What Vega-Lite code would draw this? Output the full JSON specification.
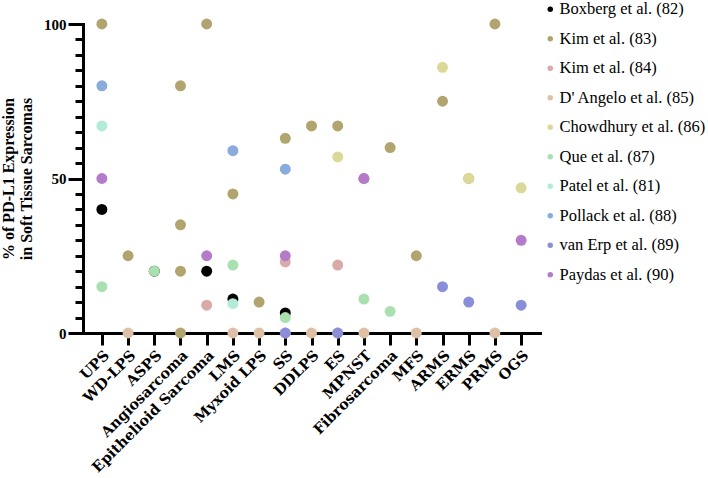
{
  "$schema": "https://vega.github.io/schema/vega-lite/v6.json",
  "width": 457,
  "height": 309,
  "autosize": {"type": "none"},
  "padding": {"left": 83, "top": 24, "right": 168, "bottom": 145},
  "background": "white",
  "config": {
    "view": {"stroke": null},
    "font": "Liberation Serif",
    "legend": {"labelFont": "Liberation Serif", "labelFontSize": 16.5}
  },
  "data": {"values": [
    {"study": "Boxberg et al. (82)", "sarcoma": "UPS", "pct": 40},
    {"study": "Boxberg et al. (82)", "sarcoma": "ASPS", "pct": 20},
    {"study": "Boxberg et al. (82)", "sarcoma": "Epithelioid Sarcoma", "pct": 20},
    {"study": "Boxberg et al. (82)", "sarcoma": "LMS", "pct": 11},
    {"study": "Boxberg et al. (82)", "sarcoma": "SS", "pct": 6.5},
    {"study": "Kim et al. (83)", "sarcoma": "UPS", "pct": 100},
    {"study": "Kim et al. (83)", "sarcoma": "WD-LPS", "pct": 25},
    {"study": "Kim et al. (83)", "sarcoma": "Angiosarcoma", "pct": 80},
    {"study": "Kim et al. (83)", "sarcoma": "Angiosarcoma", "pct": 35},
    {"study": "Kim et al. (83)", "sarcoma": "Angiosarcoma", "pct": 20},
    {"study": "Kim et al. (83)", "sarcoma": "Angiosarcoma", "pct": 0},
    {"study": "Kim et al. (83)", "sarcoma": "Epithelioid Sarcoma", "pct": 100},
    {"study": "Kim et al. (83)", "sarcoma": "LMS", "pct": 45},
    {"study": "Kim et al. (83)", "sarcoma": "Myxoid LPS", "pct": 10},
    {"study": "Kim et al. (83)", "sarcoma": "SS", "pct": 63},
    {"study": "Kim et al. (83)", "sarcoma": "DDLPS", "pct": 67},
    {"study": "Kim et al. (83)", "sarcoma": "ES", "pct": 67},
    {"study": "Kim et al. (83)", "sarcoma": "MPNST", "pct": 50},
    {"study": "Kim et al. (83)", "sarcoma": "Fibrosarcoma", "pct": 60},
    {"study": "Kim et al. (83)", "sarcoma": "MFS", "pct": 25},
    {"study": "Kim et al. (83)", "sarcoma": "ARMS", "pct": 75},
    {"study": "Kim et al. (83)", "sarcoma": "ERMS", "pct": 50},
    {"study": "Kim et al. (83)", "sarcoma": "PRMS", "pct": 100},
    {"study": "Kim et al. (84)", "sarcoma": "Epithelioid Sarcoma", "pct": 9},
    {"study": "Kim et al. (84)", "sarcoma": "SS", "pct": 23},
    {"study": "Kim et al. (84)", "sarcoma": "ES", "pct": 22},
    {"study": "D' Angelo et al. (85)", "sarcoma": "WD-LPS", "pct": 0},
    {"study": "D' Angelo et al. (85)", "sarcoma": "LMS", "pct": 0},
    {"study": "D' Angelo et al. (85)", "sarcoma": "Myxoid LPS", "pct": 0},
    {"study": "D' Angelo et al. (85)", "sarcoma": "SS", "pct": 0},
    {"study": "D' Angelo et al. (85)", "sarcoma": "DDLPS", "pct": 0},
    {"study": "D' Angelo et al. (85)", "sarcoma": "ES", "pct": 0},
    {"study": "D' Angelo et al. (85)", "sarcoma": "MPNST", "pct": 0},
    {"study": "D' Angelo et al. (85)", "sarcoma": "MFS", "pct": 0},
    {"study": "D' Angelo et al. (85)", "sarcoma": "PRMS", "pct": 0},
    {"study": "Chowdhury et al. (86)", "sarcoma": "ES", "pct": 57},
    {"study": "Chowdhury et al. (86)", "sarcoma": "ARMS", "pct": 86},
    {"study": "Chowdhury et al. (86)", "sarcoma": "ERMS", "pct": 50},
    {"study": "Chowdhury et al. (86)", "sarcoma": "OGS", "pct": 47},
    {"study": "Que et al. (87)", "sarcoma": "UPS", "pct": 15},
    {"study": "Que et al. (87)", "sarcoma": "ASPS", "pct": 20},
    {"study": "Que et al. (87)", "sarcoma": "LMS", "pct": 22},
    {"study": "Que et al. (87)", "sarcoma": "SS", "pct": 5},
    {"study": "Que et al. (87)", "sarcoma": "MPNST", "pct": 11},
    {"study": "Que et al. (87)", "sarcoma": "Fibrosarcoma", "pct": 7},
    {"study": "Patel et al. (81)", "sarcoma": "UPS", "pct": 67},
    {"study": "Patel et al. (81)", "sarcoma": "LMS", "pct": 9.5},
    {"study": "Pollack et al. (88)", "sarcoma": "UPS", "pct": 80},
    {"study": "Pollack et al. (88)", "sarcoma": "LMS", "pct": 59},
    {"study": "Pollack et al. (88)", "sarcoma": "SS", "pct": 53},
    {"study": "van Erp et al. (89)", "sarcoma": "SS", "pct": 0},
    {"study": "van Erp et al. (89)", "sarcoma": "ES", "pct": 0},
    {"study": "van Erp et al. (89)", "sarcoma": "ARMS", "pct": 15},
    {"study": "van Erp et al. (89)", "sarcoma": "ERMS", "pct": 10},
    {"study": "van Erp et al. (89)", "sarcoma": "OGS", "pct": 9},
    {"study": "Paydas et al. (90)", "sarcoma": "UPS", "pct": 50},
    {"study": "Paydas et al. (90)", "sarcoma": "Epithelioid Sarcoma", "pct": 25},
    {"study": "Paydas et al. (90)", "sarcoma": "SS", "pct": 25},
    {"study": "Paydas et al. (90)", "sarcoma": "MPNST", "pct": 50},
    {"study": "Paydas et al. (90)", "sarcoma": "OGS", "pct": 30}
  ]},
  "mark": {"type": "circle", "size": 120, "opacity": 1},
  "encoding": {
    "x": {
      "field": "sarcoma",
      "type": "nominal",
      "sort": ["UPS", "WD-LPS", "ASPS", "Angiosarcoma", "Epithelioid Sarcoma", "LMS", "Myxoid LPS", "SS", "DDLPS", "ES", "MPNST", "Fibrosarcoma", "MFS", "ARMS", "ERMS", "PRMS", "OGS"],
      "scale": {"type": "point", "padding": 0.72},
      "axis": {
        "title": null,
        "labelAngle": -45,
        "labelFont": "DejaVu Serif",
        "labelFontWeight": "bold",
        "labelFontSize": 14.5,
        "labelColor": "black",
        "labelPadding": 3,
        "domainColor": "black",
        "domainWidth": 3,
        "domainCap": "square",
        "tickColor": "black",
        "tickWidth": 3,
        "tickSize": 12,
        "grid": false
      }
    },
    "y": {
      "field": "pct",
      "type": "quantitative",
      "scale": {"domain": [0, 100], "nice": false},
      "axis": {
        "title": ["% of PD-L1 Expression", "in Soft Tissue Sarcomas"],
        "titleFont": "Liberation Serif",
        "titleFontWeight": "bold",
        "titleFontSize": 16,
        "titleColor": "black",
        "titlePadding": 9,
        "values": [0, 5, 10, 15, 20, 25, 30, 35, 40, 45, 50, 55, 60, 65, 70, 75, 80, 85, 90, 95, 100],
        "labelExpr": "datum.value % 50 === 0 ? datum.label : ''",
        "labelFont": "Liberation Serif",
        "labelFontWeight": "bold",
        "labelFontSize": 15,
        "labelColor": "black",
        "labelPadding": 2,
        "domainColor": "black",
        "domainWidth": 3,
        "domainCap": "square",
        "tickColor": "black",
        "tickWidth": 3,
        "tickSize": {"condition": {"test": "datum.value % 50 === 0", "value": 15}, "value": 8},
        "grid": false
      }
    },
    "color": {
      "field": "study",
      "type": "nominal",
      "sort": ["Boxberg et al. (82)", "Kim et al. (83)", "Kim et al. (84)", "D' Angelo et al. (85)", "Chowdhury et al. (86)", "Que et al. (87)", "Patel et al. (81)", "Pollack et al. (88)", "van Erp et al. (89)", "Paydas et al. (90)"],
      "scale": {
        "domain": ["Boxberg et al. (82)", "Kim et al. (83)", "Kim et al. (84)", "D' Angelo et al. (85)", "Chowdhury et al. (86)", "Que et al. (87)", "Patel et al. (81)", "Pollack et al. (88)", "van Erp et al. (89)", "Paydas et al. (90)"],
        "range": ["#000000", "#b1a46e", "#daaaa8", "#dec0a6", "#dcd898", "#a8e0b0", "#b2ecd8", "#89acdd", "#8a8ed8", "#b57bcb"]
      },
      "legend": {
        "title": null,
        "orient": "none",
        "legendX": 459,
        "legendY": -23,
        "padding": 0,
        "symbolType": "circle",
        "symbolSize": 30,
        "symbolStrokeWidth": 0,
        "symbolOpacity": 1,
        "labelFont": "Liberation Serif",
        "labelFontSize": 16.5,
        "labelColor": "black",
        "labelOffset": 1,
        "rowPadding": 12.5,
        "labelLimit": 300
      }
    }
  }
}
